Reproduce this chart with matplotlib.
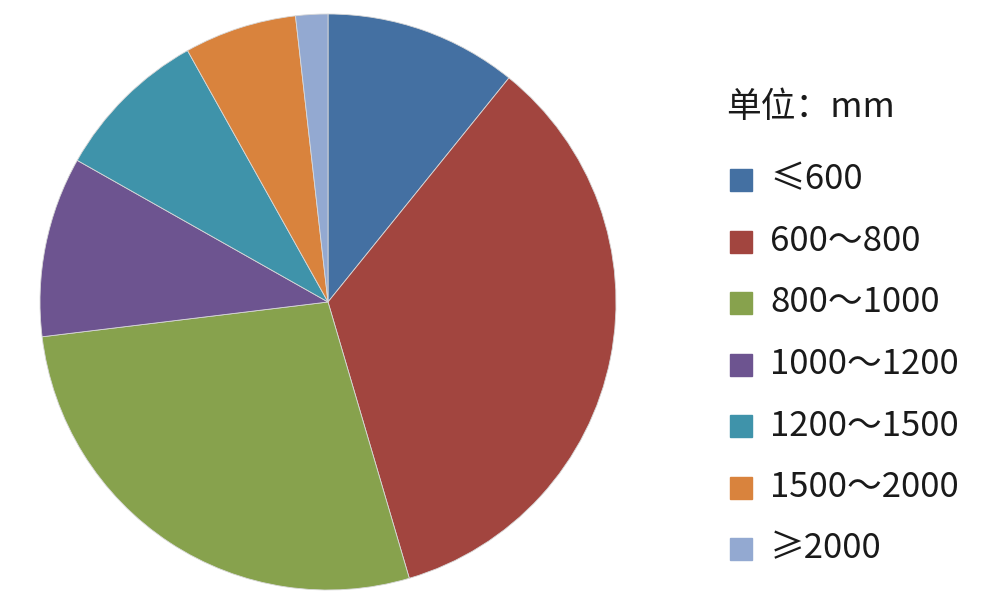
import matplotlib.pyplot as plt
from matplotlib.patches import Rectangle

plt.rcParams['font.family'] = ['Noto Sans CJK SC', 'DejaVu Sans']

# 各区间所占比例（%）
labels = ['≤600', '600～800', '800～1000', '1000～1200', '1200～1500', '1500～2000', '≥2000']
shares = [10.8, 34.6, 27.6, 10.1, 8.7, 6.3, 1.8]
colors = ['#4470a2', '#a2453f', '#87a24d', '#6d5490', '#3f93aa', '#d9833d', '#93a9d1']
legend_title = '单位：mm'

W, H = 1006, 607
fig = plt.figure(figsize=(W / 100, H / 100), dpi=100)
ax = fig.add_axes([0, 0, 1, 1])
ax.set_xlim(0, W)
ax.set_ylim(0, H)
ax.set_aspect('equal')
ax.axis('off')

ax.pie(shares, colors=colors, startangle=90, counterclock=False,
       center=(328, H - 302), radius=288,
       wedgeprops={'edgecolor': '#d8d8d8', 'linewidth': 0.6})
ax.set_xlim(0, W)
ax.set_ylim(0, H)

# 图例（手动排布）
ax.text(726, H - 108, legend_title, fontsize=25, va='center', ha='left', color='#1a1a1a')
y0 = 180
step = 61.5
for i in range(len(labels)):
    yc = H - (y0 + i * step)
    ax.add_patch(Rectangle((730, yc - 11), 22, 22, color=colors[i]))
    ax.text(770, yc, labels[i], fontsize=25, va='center', ha='left', color='#1a1a1a')

fig.savefig('out.png', dpi=100)
